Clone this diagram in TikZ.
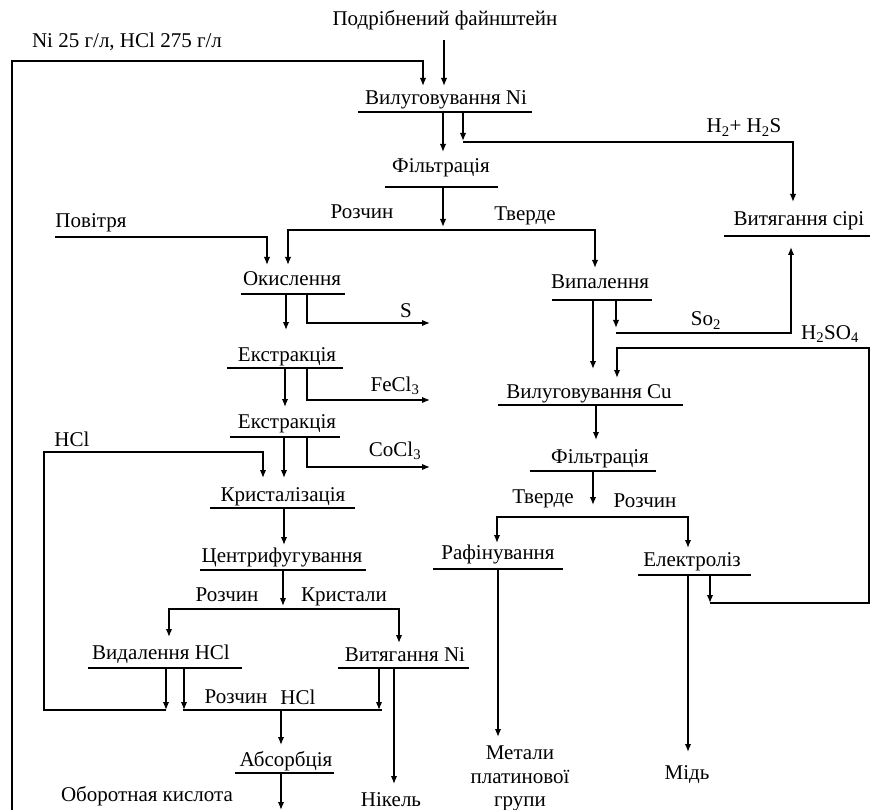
\documentclass[tikz,border=0pt]{standalone}
\usepackage{fontspec}
\setmainfont{Liberation Serif}
\usetikzlibrary{arrows.meta}
\begin{document}
\begin{tikzpicture}[x=1pt,y=-1pt,
  lbl/.style={anchor=base,inner sep=0pt,font=\fontsize{21}{24}\selectfont},
  ln/.style={line width=1.5pt},
  arr/.style={line width=1.5pt,-{Latex[length=8pt,width=6.5pt]}}]
\useasboundingbox (0,0) rectangle (870,810);
% texts
\node[lbl] (feed) at (445,26) {Подрібнений файнштейн};
\node[lbl] (rec) at (127,48) {Ni 25 г/л, HCl 275 г/л};
\node[lbl] (vylni) at (446,105) {Вилуговування Ni};
\node[lbl] (h2s) at (744,133) {H\textsubscript{2}+ H\textsubscript{2}S};
\node[lbl] (fil1) at (441,173) {Фільтрація};
\node[lbl] (rozch1) at (362,219) {Розчин};
\node[lbl] (tv1) at (525,221) {Тверде};
\node[lbl] (pov) at (91,228) {Повітря};
\node[lbl] (oks) at (292,286) {Окислення};
\node[lbl] (s) at (406,317) {S};
\node[lbl] (ext1) at (287,361) {Екстракція};
\node[lbl] (fecl) at (395,391) {FeCl\textsubscript{3}};
\node[lbl] (ext2) at (287,428) {Екстракція};
\node[lbl] (cocl) at (395,456) {CoCl\textsubscript{3}};
\node[lbl] (hcl1) at (72,446) {HCl};
\node[lbl] (kryst) at (283,501) {Кристалізація};
\node[lbl] (centr) at (282,562) {Центрифугування};
\node[lbl] (rozch2) at (227,601) {Розчин};
\node[lbl] (kr) at (344,601) {Кристали};
\node[lbl] (vyd) at (161,659) {Видалення HCl};
\node[lbl] (vytni) at (405,661) {Витягання Ni};
\node[lbl] (rozch3) at (236,703) {Розчин};
\node[lbl] (hcl2) at (298,704) {HCl};
\node[lbl] (abs) at (286,766) {Абсорбція};
\node[lbl] (obor) at (147,801) {Оборотная кислота};
\node[lbl] (nik) at (391,806) {Нікель};
\node[lbl] (sir) at (799,226) {Витягання сірі};
\node[lbl] (vyp) at (600,289) {Випалення};
\node[lbl] (so2) at (706,326) {So\textsubscript{2}};
\node[lbl] (h2so4) at (830,339) {H\textsubscript{2}SO\textsubscript{4}};
\node[lbl] (vylcu) at (589,398) {Вилуговування Cu};
\node[lbl] (fil2) at (600,463) {Фільтрація};
\node[lbl] (tv2) at (543,503) {Тверде};
\node[lbl] (rozch4) at (645,507) {Розчин};
\node[lbl] (raf) at (498,559) {Рафінування};
\node[lbl] (el) at (692,566) {Електроліз};
\node[lbl] (met1) at (520,759) {Метали};
\node[lbl] (met2) at (520,783) {платинової};
\node[lbl] (met3) at (520,806) {групи};
\node[lbl] (mid) at (687,779) {Мідь};
% underlines
\draw[ln] (358,112) -- (532,112);
\draw[ln] (385,187) -- (498,187);
\draw[ln] (241,294) -- (345,294);
\draw[ln] (227,368) -- (343,368);
\draw[ln] (230,437) -- (340,437);
\draw[ln] (210,508) -- (355,508);
\draw[ln] (200,570) -- (366,570);
\draw[ln] (88,668) -- (242,668);
\draw[ln] (338,668) -- (469,668);
\draw[ln] (235,773) -- (334,773);
\draw[ln] (724,236) -- (870,236);
\draw[ln] (552,300) -- (652,300);
\draw[ln] (498,405) -- (683,405);
\draw[ln] (530,471) -- (656,471);
\draw[ln] (433,569) -- (563,569);
\draw[ln] (638,575) -- (751,575);
% connectors
\draw[arr] (444,40) -- (444,86);
\draw[arr] (12,810) -- (12,61) -- (423,61) -- (423,86);
\draw[arr] (443,112) -- (443,152);
\draw[arr] (463,112) -- (463,141);
\draw[arr] (463,142) -- (793,142) -- (793,202);
\draw[arr] (443,187) -- (443,227);
\draw[arr] (443,230) -- (288,230) -- (288,265);
\draw[arr] (443,230) -- (595,230) -- (595,268);
\draw[arr] (55,237) -- (267,237) -- (267,265);
\draw[arr] (286,294) -- (286,330);
\draw[arr] (307,294) -- (307,323) -- (430,323);
\draw[arr] (285,368) -- (285,407);
\draw[arr] (307,368) -- (307,400) -- (430,400);
\draw[arr] (284,437) -- (284,478);
\draw[arr] (307,437) -- (307,467) -- (430,467);
\draw[arr] (166,710) -- (44,710) -- (44,452) -- (263,452) -- (263,478);
\draw[arr] (284,508) -- (284,545);
\draw[arr] (283,570) -- (283,606);
\draw[arr] (283,609) -- (169,609) -- (169,637);
\draw[arr] (283,609) -- (399,609) -- (399,643);
\draw[arr] (166,668) -- (166,710);
\draw[arr] (184,668) -- (184,710);
\draw[ln] (183,710) -- (382,710);
\draw[arr] (379,668) -- (379,710);
\draw[arr] (281,710) -- (281,745);
\draw[arr] (281,773) -- (281,810);
\draw[arr] (394,668) -- (394,784);
\draw[arr] (593,300) -- (593,369);
\draw[arr] (616,300) -- (616,328);
\draw[arr] (616,333) -- (791,333) -- (791,247);
\draw[arr] (710,603) -- (869,603) -- (869,348) -- (617,348) -- (617,378);
\draw[arr] (710,575) -- (710,603);
\draw[arr] (596,405) -- (596,440);
\draw[arr] (593,471) -- (593,505);
\draw[arr] (593,517) -- (497,517) -- (497,543);
\draw[arr] (593,517) -- (688,517) -- (688,548);
\draw[arr] (498,569) -- (498,737);
\draw[arr] (688,575) -- (688,752);
\end{tikzpicture}
\end{document}
